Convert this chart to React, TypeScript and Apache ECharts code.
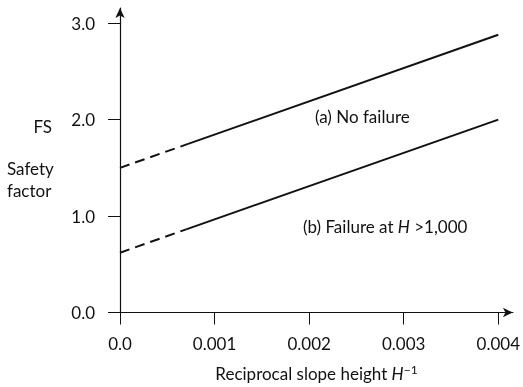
import React, { useEffect, useRef } from "react";
import * as echarts from "echarts";

// x values: reciprocal slope height H^-1
const lineAX = [0, 0.00072, 0.004];
const lineAY = [1.5, 1.748, 2.88];
const lineBX = [0, 0.0007, 0.004];
const lineBY = [0.62, 0.862, 2.0];
const xTicks = [0, 0.001, 0.002, 0.003, 0.004];
const xTickLabels = ["0.0", "0.001", "0.002", "0.003", "0.004"];
const yTicks = [0, 1, 2, 3];
const yTickLabels = ["0.0", "1.0", "2.0", "3.0"];

const FONT = "Lato, 'Open Sans', sans-serif";
const INK = "#111";
const FS = 17;

export default function App() {
  const ref = useRef<HTMLDivElement>(null);
  useEffect(() => {
    if (!ref.current) return;
    const chart = echarts.init(ref.current, undefined, { renderer: "svg" });
    const dashed = { type: [10, 6] as any, width: 2, color: INK };
    const solid = { type: "solid" as const, width: 2, color: INK };
    chart.setOption({
      animation: false,
      textStyle: { fontFamily: FONT },
      grid: { left: 120, right: 2, top: 8, bottom: 74.3, containLabel: false },
      xAxis: {
        type: "value",
        min: 0,
        max: 0.004155,
        splitLine: { show: false },
        axisLine: {
          show: true,
          onZero: false,
          lineStyle: { color: INK, width: 1.2 },
          symbol: ["none", "arrow"],
          symbolSize: [7, 10],
        },
        axisTick: { show: true, inside: false, length: 12, customValues: xTicks, lineStyle: { color: INK } },
        axisLabel: {
          customValues: xTicks,
          margin: 22,
          color: INK,
          fontSize: FS,
          fontFamily: FONT,
          formatter: (v: number) => {
            const i = xTicks.findIndex((t) => Math.abs(t - v) < 1e-9);
            return i >= 0 ? xTickLabels[i] : "";
          },
        },
        name: "Reciprocal slope height {i|H}{s|−1}",
        nameLocation: "middle",
        nameGap: 51,
        nameTextStyle: {
          color: INK,
          fontSize: FS,
          fontFamily: FONT,
          rich: {
            i: { fontStyle: "italic", fontSize: FS, color: INK, fontFamily: FONT },
            s: { fontSize: 12, verticalAlign: "top", padding: [0, 0, 8, 0], color: INK, fontFamily: FONT },
          },
        },
      },
      yAxis: {
        type: "value",
        min: 0,
        max: 3.157,
        splitLine: { show: false },
        axisLine: {
          show: true,
          onZero: false,
          lineStyle: { color: INK, width: 1.2 },
          symbol: ["none", "arrow"],
          symbolSize: [7, 10],
        },
        axisTick: { show: true, inside: false, length: 12, customValues: yTicks, lineStyle: { color: INK } },
        axisLabel: {
          customValues: yTicks,
          margin: 25,
          color: INK,
          fontSize: FS,
          fontFamily: FONT,
          formatter: (v: number) => {
            const i = yTicks.findIndex((t) => Math.abs(t - v) < 1e-9);
            return i >= 0 ? yTickLabels[i] : "";
          },
        },
      },
      series: [
        {
          type: "line",
          name: "a-dashed",
          data: [[lineAX[0], lineAY[0]], [lineAX[1], lineAY[1]]],
          showSymbol: false,
          lineStyle: dashed,
        },
        {
          type: "line",
          name: "a-solid",
          data: [[lineAX[1], lineAY[1]], [lineAX[2], lineAY[2]]],
          showSymbol: false,
          lineStyle: solid,
        },
        {
          type: "line",
          name: "b-dashed",
          data: [[lineBX[0], lineBY[0]], [lineBX[1], lineBY[1]]],
          showSymbol: false,
          lineStyle: dashed,
        },
        {
          type: "line",
          name: "b-solid",
          data: [[lineBX[1], lineBY[1]], [lineBX[2], lineBY[2]]],
          showSymbol: false,
          lineStyle: solid,
        },
      ],
      graphic: [
        { type: "text", right: 471, top: 118, style: { text: "FS", fill: INK, font: `${FS}px ${FONT}`, textAlign: "right" } },
        { type: "text", left: 7, top: 157, style: { text: "Safety\nfactor", fill: INK, font: `${FS}px ${FONT}`, lineHeight: 22 } },
        { type: "text", left: 315, top: 108, style: { text: "(a) No failure", fill: INK, font: `${FS}px ${FONT}` } },
        {
          type: "text",
          left: 303,
          top: 218,
          style: {
            text: "(b) Failure at {i|H} >1,000",
            fill: INK,
            font: `${FS}px ${FONT}`,
            rich: { i: { fontStyle: "italic", fontSize: FS, fontFamily: FONT, fill: INK } },
          },
        },
      ],
    });
    return () => chart.dispose();
  }, []);
  return <div ref={ref} style={{ position: "fixed", left: 0, top: 0, width: 523, height: 387 }} />;
}
